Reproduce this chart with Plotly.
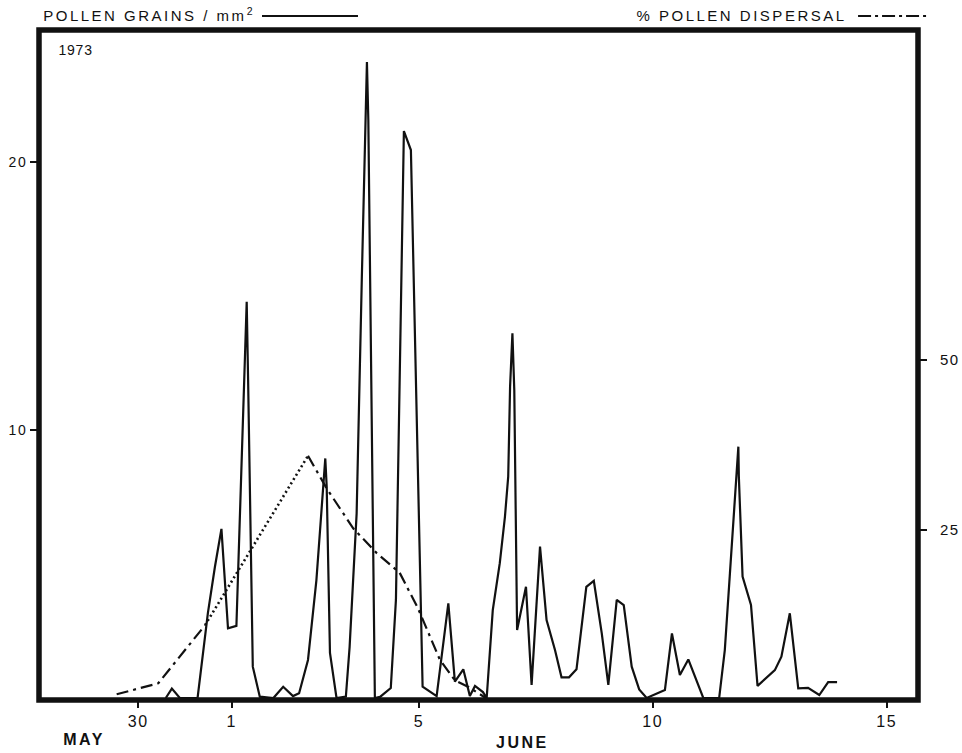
import plotly.graph_objects as go

# Pollen catch, 1973. Time axis is the day of June (0 = May 31, -1 = May 30).
grain_day = [
    -0.41, -0.28, -0.11, 0.27, 0.49, 0.64, 0.78, 0.92, 1.10, 1.32, 1.35, 1.45,
    1.60, 1.89, 2.10, 2.31, 2.44, 2.63, 2.81, 2.94, 3.00, 3.03, 3.10, 3.24,
    3.44, 3.52, 3.67, 3.78, 3.89, 3.92, 4.06, 4.17, 4.40, 4.51, 4.60, 4.68,
    4.83, 5.08, 5.38, 5.63, 5.77, 5.95, 6.09, 6.20, 6.37, 6.45, 6.58, 6.73,
    6.84, 6.91, 6.95, 7.00, 7.04, 7.10, 7.29, 7.41, 7.59, 7.73, 7.91, 8.05,
    8.21, 8.37, 8.58, 8.74, 8.91, 9.05, 9.23, 9.38, 9.55, 9.71, 9.87, 10.26,
    10.41, 10.58, 10.76, 11.08, 11.42, 11.54, 11.65, 11.83, 11.84, 11.92,
    12.10, 12.24, 12.61, 12.75, 12.93, 13.11, 13.32, 13.56, 13.75, 13.94,
]
grain_count = [
    0.0, 0.35, 0.0, 0.0, 3.17, 4.89, 6.31, 2.60, 2.69, 14.79, 11.87, 1.17,
    0.05, 0.0, 0.42, 0.07, 0.18, 1.42, 4.40, 7.51, 8.94, 7.88, 1.68, 0.0,
    0.05, 1.91, 6.89, 15.6, 23.73, 21.57, 0.0, 0.04, 0.37, 3.66, 12.99, 21.16,
    20.45, 0.42, 0.07, 3.53, 0.61, 1.07, 0.07, 0.45, 0.22, 0.0, 3.28, 5.03,
    6.76, 8.26, 11.62, 13.61, 11.49, 2.54, 4.15, 0.49, 5.65, 2.91, 1.79, 0.77,
    0.77, 1.07, 4.15, 4.37, 2.41, 0.49, 3.66, 3.47, 1.17, 0.32, 0.0, 0.30,
    2.41, 0.86, 1.44, 0.0, 0.0, 1.79, 4.66, 9.38, 8.28, 4.53,
    3.47, 0.45, 1.04, 1.54, 3.16, 0.36, 0.38, 0.11, 0.59, 0.59,
]

disp_day = [-1.46, -0.57, 0.43, 2.63, 3.03, 3.60, 4.10, 4.59, 4.98, 5.45, 5.77, 6.09, 6.43]
disp_pct = [0.84, 2.46, 11.0, 35.9, 31.1, 25.2, 21.6, 18.7, 13.5, 5.9, 2.9, 1.8, 0.3]

day_ticks = [-1, 1, 5, 10, 15]
day_labels = ["30", "1", "5", "10", "15"]
grain_ticks = [10, 20]
pct_ticks = [25, 50]

INK = "#111111"
FONT = "Liberation Sans, Arial, sans-serif"

fig = go.Figure()

fig.add_trace(go.Scatter(
    x=grain_day, y=grain_count, mode="lines",
    line=dict(color=INK, width=2.2), yaxis="y", hoverinfo="skip",
))

# dispersal curve: dash-dot, a dotted stretch while rising to the peak, dash-dot again
dash_dot = "12px,5px,3px,5px"
segments = [(0, 3, dash_dot, 2.2), (2, 4, "2px,3px", 2.6), (3, len(disp_day), dash_dot, 2.2)]
for a, b, dash, w in segments:
    fig.add_trace(go.Scatter(
        x=disp_day[a:b], y=disp_pct[a:b], mode="lines",
        line=dict(color=INK, width=w, dash=dash), yaxis="y2", hoverinfo="skip",
    ))

fig.update_layout(
    width=962, height=753,
    margin=dict(l=39, r=44, t=30, b=53, autoexpand=False),
    paper_bgcolor="white", plot_bgcolor="white",
    showlegend=False,
    font=dict(family=FONT, color=INK),
    xaxis=dict(
        range=[-3.12, 15.67], tickvals=day_ticks, ticktext=day_labels,
        showgrid=False, zeroline=False, showline=False, automargin=False,
        ticks="outside", ticklen=7, tickwidth=2, tickcolor=INK,
        tickfont=dict(size=16, family=FONT, color=INK),
    ),
    yaxis=dict(
        range=[-0.075, 24.93], tickvals=grain_ticks,
        showgrid=False, zeroline=False, showline=False, automargin=False,
        ticks="outside", ticklen=8, tickwidth=2, tickcolor=INK,
        tickfont=dict(size=14, family=FONT, color=INK),
    ),
    yaxis2=dict(
        range=[0, 98.5], tickvals=pct_ticks, overlaying="y", side="right",
        showgrid=False, zeroline=False, showline=False, automargin=False,
        ticks="outside", ticklen=8, tickwidth=2, tickcolor=INK,
        ticklabelstandoff=10,
        tickfont=dict(size=15, family=FONT, color=INK),
    ),
    shapes=[
        # heavy frame round the plotting area
        dict(type="rect", xref="paper", yref="paper", x0=0, x1=1, y0=0, y1=1,
             line=dict(color=INK, width=5.5), layer="above"),
        # key swatches
        dict(type="line", xref="paper", yref="paper", x0=0.2537, x1=0.3629,
             y0=1.0209, y1=1.0209, line=dict(color=INK, width=2)),
        dict(type="line", xref="paper", yref="paper", x0=0.9318, x1=1.0114,
             y0=1.0209, y1=1.0209, line=dict(color=INK, width=2.2, dash="13px,4px,3px,4px")),
    ],
    annotations=[
        dict(text="POLLEN GRAINS / mm<sup>2</sup>", xref="paper", yref="paper",
             x=0.1257, y=1.0224, xanchor="center", yanchor="middle", showarrow=False,
             font=dict(size=15, family=FONT, color=INK)),
        dict(text="% POLLEN DISPERSAL", xref="paper", yref="paper",
             x=0.7990, y=1.0209, xanchor="center", yanchor="middle", showarrow=False,
             font=dict(size=15, family=FONT, color=INK)),
        dict(text="1973", xref="paper", yref="paper",
             x=0.0410, y=0.970, xanchor="center", yanchor="middle", showarrow=False,
             font=dict(size=14, family=FONT, color=INK)),
        dict(text="MAY", xref="paper", yref="paper",
             x=0.0512, y=-0.0597, xanchor="center", yanchor="middle", showarrow=False,
             font=dict(size=16, family=FONT, color=INK, weight="bold")),
        dict(text="JUNE", xref="paper", yref="paper",
             x=0.5506, y=-0.0627, xanchor="center", yanchor="middle", showarrow=False,
             font=dict(size=16, family=FONT, color=INK, weight="bold")),
    ],
)

# wide, typewriter-like spacing of the lettering
spacing_css = (
    "var s=document.createElement('style');"
    "s.textContent='.annotation-text{letter-spacing:2.5px}"
    " .annotation[data-index=\"2\"] .annotation-text{letter-spacing:0.8px}"
    " .xtick text,.ytick text,.y2tick text{letter-spacing:1.5px}';"
    "document.head.appendChild(s);"
)

fig.write_html("out.html", post_script=spacing_css)
